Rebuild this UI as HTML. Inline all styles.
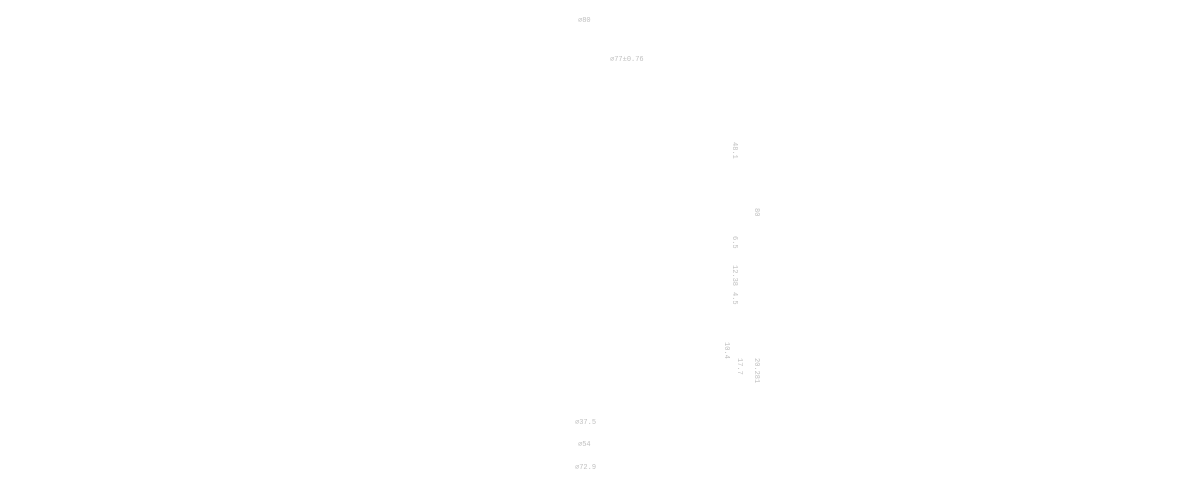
<!DOCTYPE html>
<html><head><meta charset="utf-8"><style>
html,body{margin:0;padding:0;background:#fff;width:1200px;height:500px;overflow:hidden}
.t{position:absolute;font-family:"Liberation Mono","DejaVu Sans Mono",monospace;font-size:7px;color:#c0c0c0;line-height:1;white-space:nowrap;letter-spacing:0}
.v{writing-mode:vertical-rl}
</style></head><body>
<div class="t" style="left:578px;top:18px">⌀80</div>
<div class="t" style="left:610px;top:57px">⌀77±0.76</div>
<div class="t v" style="left:730px;top:142px">48.1</div>
<div class="t v" style="left:752px;top:208px">80</div>
<div class="t v" style="left:730px;top:236px">6.5</div>
<div class="t v" style="left:730px;top:265px">12.38</div>
<div class="t v" style="left:730px;top:292px">4.5</div>
<div class="t v" style="left:722px;top:342px">10.4</div>
<div class="t v" style="left:735px;top:358px">17.7</div>
<div class="t v" style="left:752px;top:358px">20.281</div>
<div class="t" style="left:575px;top:420px">⌀37.5</div>
<div class="t" style="left:578px;top:442px">⌀54</div>
<div class="t" style="left:575px;top:465px">⌀72.9</div>
</body></html>
